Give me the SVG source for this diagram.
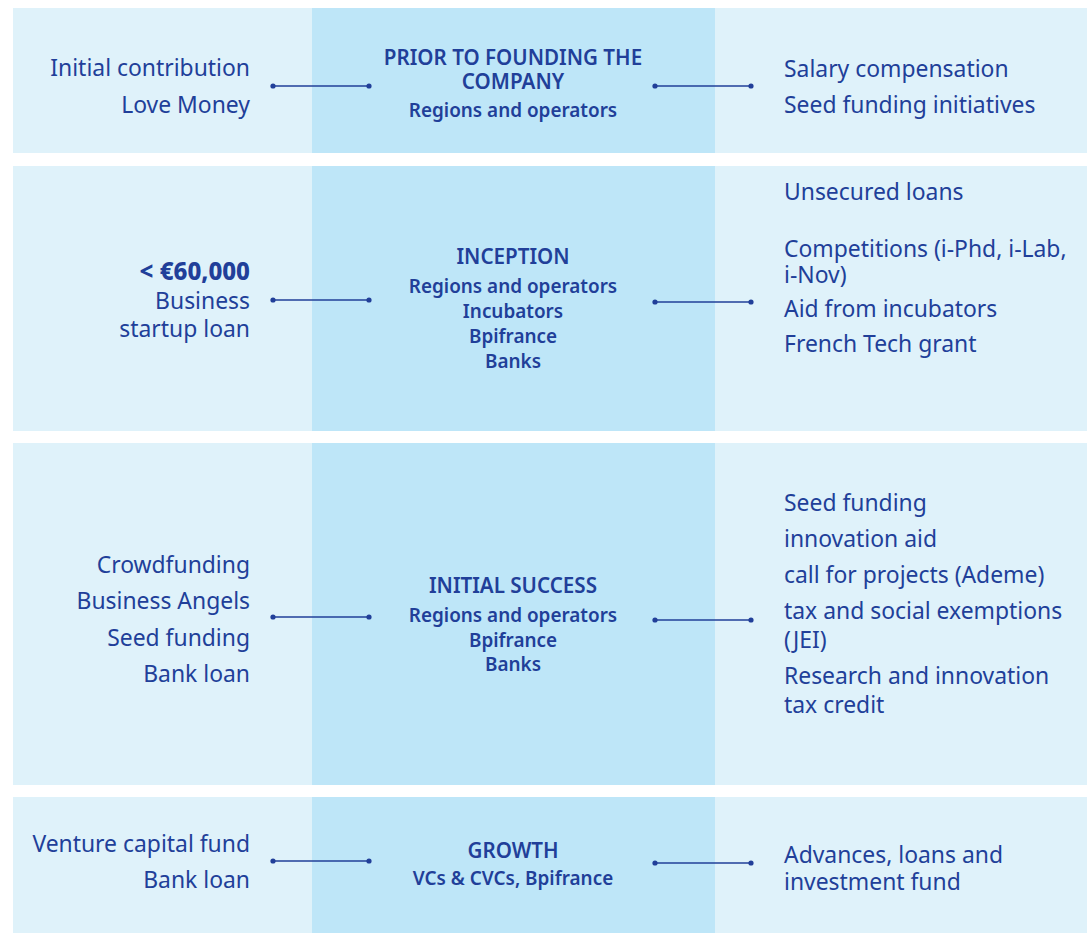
<svg xmlns="http://www.w3.org/2000/svg" width="1087" height="933" viewBox="0 0 1087 933">
<style>
.side{fill:#dff2fa}
.mid{fill:#bee6f8}
text{font-family:"Noto Sans","Open Sans",sans-serif;fill:#213f99}
.b{font-size:22.9px}
.l{text-anchor:end}
.c{text-anchor:middle;font-weight:600}
.t{font-size:20.6px;font-weight:600}
.s{font-size:18.9px}
.em{font-weight:800;font-size:24px}
.cn line{stroke:#213f99;stroke-width:1.6}
.cn circle{fill:#213f99}
</style>
<rect width="1087" height="933" fill="#ffffff"/>
<g id="row1">
<rect class="side" x="13" y="8" width="1074" height="145"/>
<rect class="mid" x="312" y="8" width="403" height="145"/>
</g>
<g id="row2">
<rect class="side" x="13" y="166" width="1074" height="265"/>
<rect class="mid" x="312" y="166" width="403" height="265"/>
</g>
<g id="row3">
<rect class="side" x="13" y="443" width="1074" height="342"/>
<rect class="mid" x="312" y="443" width="403" height="342"/>
</g>
<g id="row4">
<rect class="side" x="13" y="797" width="1074" height="136"/>
<rect class="mid" x="312" y="797" width="403" height="136"/>
</g>
<g id="n1-left"><text class="b l" x="250" y="76">Initial contribution</text><text class="b l" x="250" y="113">Love Money</text></g>
<g id="n1-center"><text class="c t" x="513" y="65">PRIOR TO FOUNDING THE</text><text class="c t" x="513" y="89">COMPANY</text><text class="c s" x="513" y="117">Regions and operators</text></g>
<g id="n1-right"><text class="b" x="784" y="77">Salary compensation</text><text class="b" x="784" y="113">Seed funding initiatives</text></g>
<g id="n2-left"><text class="b l em" x="250" y="280">&lt; €60,000</text><text class="b l" x="250" y="309">Business</text><text class="b l" x="250" y="337">startup loan</text></g>
<g id="n2-center"><text class="c t" x="513" y="264">INCEPTION</text><text class="c s" x="513" y="293">Regions and operators</text><text class="c s" x="513" y="318">Incubators</text><text class="c s" x="513" y="343">Bpifrance</text><text class="c s" x="513" y="368">Banks</text></g>
<g id="n2-right"><text class="b" x="784" y="200">Unsecured loans</text><text class="b" x="784" y="257">Competitions (i-Phd, i-Lab,</text><text class="b" x="784" y="283">i-Nov)</text><text class="b" x="784" y="317">Aid from incubators</text><text class="b" x="784" y="352">French Tech grant</text></g>
<g id="n3-left"><text class="b l" x="250" y="573">Crowdfunding</text><text class="b l" x="250" y="609">Business Angels</text><text class="b l" x="250" y="646">Seed funding</text><text class="b l" x="250" y="682">Bank loan</text></g>
<g id="n3-center"><text class="c t" x="513" y="593">INITIAL SUCCESS</text><text class="c s" x="513" y="622">Regions and operators</text><text class="c s" x="513" y="647">Bpifrance</text><text class="c s" x="513" y="671">Banks</text></g>
<g id="n3-right"><text class="b" x="784" y="511">Seed funding</text><text class="b" x="784" y="547">innovation aid</text><text class="b" x="784" y="583">call for projects (Ademe)</text><text class="b" x="784" y="619">tax and social exemptions</text><text class="b" x="784" y="648">(JEI)</text><text class="b" x="784" y="684">Research and innovation</text><text class="b" x="784" y="713">tax credit</text></g>
<g id="n4-left"><text class="b l" x="250" y="852">Venture capital fund</text><text class="b l" x="250" y="888">Bank loan</text></g>
<g id="n4-center"><text class="c t" x="513" y="858">GROWTH</text><text class="c s" x="513" y="885">VCs &amp; CVCs, Bpifrance</text></g>
<g id="n4-right"><text class="b" x="784" y="863">Advances, loans and</text><text class="b" x="784" y="890">investment fund</text></g>
<g id="connectors" class="cn">
<line x1="273" y1="86" x2="369" y2="86"/><circle cx="273" cy="86" r="2.6"/><circle cx="369" cy="86" r="2.6"/>
<line x1="655" y1="86" x2="751" y2="86"/><circle cx="655" cy="86" r="2.6"/><circle cx="751" cy="86" r="2.6"/>
<line x1="273" y1="300" x2="369" y2="300"/><circle cx="273" cy="300" r="2.6"/><circle cx="369" cy="300" r="2.6"/>
<line x1="655" y1="302" x2="751" y2="302"/><circle cx="655" cy="302" r="2.6"/><circle cx="751" cy="302" r="2.6"/>
<line x1="273" y1="617" x2="369" y2="617"/><circle cx="273" cy="617" r="2.6"/><circle cx="369" cy="617" r="2.6"/>
<line x1="655" y1="620" x2="751" y2="620"/><circle cx="655" cy="620" r="2.6"/><circle cx="751" cy="620" r="2.6"/>
<line x1="273" y1="861" x2="369" y2="861"/><circle cx="273" cy="861" r="2.6"/><circle cx="369" cy="861" r="2.6"/>
<line x1="655" y1="863" x2="751" y2="863"/><circle cx="655" cy="863" r="2.6"/><circle cx="751" cy="863" r="2.6"/>
</g>
</svg>
